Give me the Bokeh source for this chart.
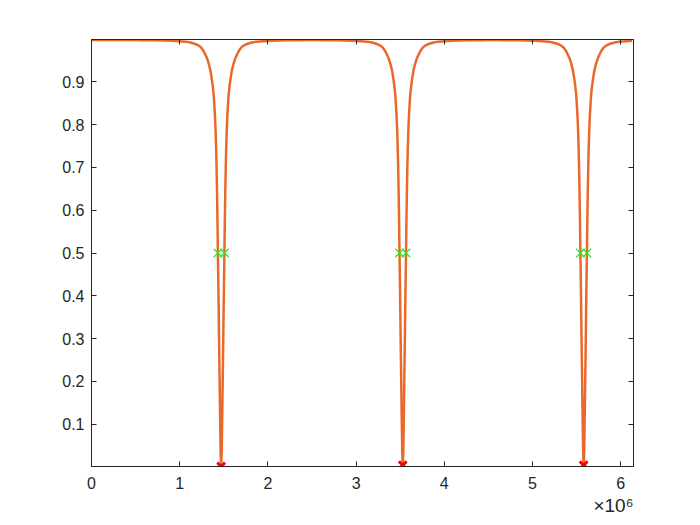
import numpy as np
from bokeh.plotting import figure
from bokeh.models import Range1d, FixedTicker, LinearAxis, Title, CustomLabelingPolicy
from bokeh.embed import file_html
from bokeh.resources import INLINE

# centros de las caidas
dip_centers = [1.470e6, 3.529e6, 5.580e6]
dip_mins = [0.001, 0.004, 0.004]

# forma de la caida: distancia al centro -> valor
profile_offset = [0, 6e3, 12e3, 18e3, 24e3, 30e3, 37e3, 42e3, 47e3, 52e3, 57e3, 63e3,
                  70e3, 77e3, 85e3, 95e3, 105e3, 120e3, 140e3, 160e3, 180e3, 205e3,
                  230e3, 265e3, 300e3, 350e3, 400e3, 475e3, 550e3, 650e3, 750e3,
                  875e3, 1000e3]
profile_value = [0.0, 0.035, 0.12, 0.21, 0.30, 0.40, 0.50, 0.58, 0.645, 0.70, 0.745, 0.785,
                 0.82, 0.845, 0.87, 0.89, 0.905, 0.925, 0.942, 0.955, 0.964, 0.974,
                 0.981, 0.986, 0.989, 0.992, 0.994, 0.995, 0.996, 0.9965, 0.997,
                 0.9975, 0.998]

# puntos a media altura
half_x = [1.433e6, 1.507e6, 3.492e6, 3.566e6, 5.543e6, 5.617e6]
half_y = [0.5, 0.5, 0.5, 0.5, 0.5, 0.5]

x_max = 6.145e6
x_ticks = [0, 1e6, 2e6, 3e6, 4e6, 5e6, 6e6]
x_labels = ["0", "1", "2", "3", "4", "5", "6"]
y_ticks = [0.1, 0.2, 0.3, 0.4, 0.5, 0.6, 0.7, 0.8, 0.9]

# armar la curva
cx, cy = [0.0], [profile_value[-1]]
for c, m in zip(dip_centers, dip_mins):
    for o, v in zip(profile_offset[::-1], profile_value[::-1]):
        if o == 0:
            continue
        cx.append(c - o); cy.append(v)
    cx.append(c); cy.append(m)
    for o, v in zip(profile_offset[1:], profile_value[1:]):
        cx.append(c + o); cy.append(v)
cx = np.array(cx); cy = np.array(cy)
keep = (cx >= 0) & (cx <= x_max)
cx, cy = cx[keep], cy[keep]

FONT = "Liberation Sans"
AX = "#262626"

p = figure(frame_width=542, frame_height=427, output_backend="svg", toolbar_location=None,
           x_range=Range1d(0, x_max), y_range=Range1d(0.001, 0.999),
           min_border_left=91, min_border_right=59, min_border_top=39, min_border_bottom=51)
p.background_fill_color = "white"
p.border_fill_color = "white"
p.outline_line_color = AX
p.outline_line_width = 1
p.xgrid.visible = False
p.ygrid.visible = False

p.line(cx, cy, line_color="#E9692C", line_width=2.5)
p.scatter(half_x, half_y, marker="x", size=12, line_color="#22EE22", line_width=1.2)
p.scatter(dip_centers, dip_mins, marker="x", size=11, line_color="red", line_width=3)

no_labels = CustomLabelingPolicy(code="""
try { indices.clear() } catch (e) { for (const i of Array.from(indices)) indices.unset(i) }
return indices
""")

def style(ax, labels=True):
    ax.axis_line_color = AX
    ax.major_tick_line_color = AX
    ax.major_tick_in = 5
    ax.major_tick_out = 0
    ax.minor_tick_line_color = None
    ax.major_label_text_font = FONT
    ax.major_label_text_font_size = "16px"
    ax.major_label_text_color = AX
    if not labels:
        ax.major_label_policy = no_labels

style(p.xaxis[0])
p.xaxis[0].ticker = FixedTicker(ticks=x_ticks)
p.xaxis[0].major_label_overrides = dict(zip(x_ticks, x_labels))
p.xaxis[0].major_label_standoff = 10
style(p.yaxis[0])
p.yaxis[0].ticker = FixedTicker(ticks=y_ticks)
p.yaxis[0].major_label_standoff = 7

top = LinearAxis(ticker=FixedTicker(ticks=x_ticks))
style(top, labels=False)
p.add_layout(top, "above")
right = LinearAxis(ticker=FixedTicker(ticks=y_ticks))
style(right, labels=False)
p.add_layout(right, "right")

# factor de escala del eje x
p.add_layout(Title(text="\u00d710\u2076", align="right", text_font=FONT,
                   text_font_size="19px", text_font_style="normal", text_color=AX,
                   standoff=2, offset=0), "below")

open("out.html", "w").write(file_html(p, INLINE))
